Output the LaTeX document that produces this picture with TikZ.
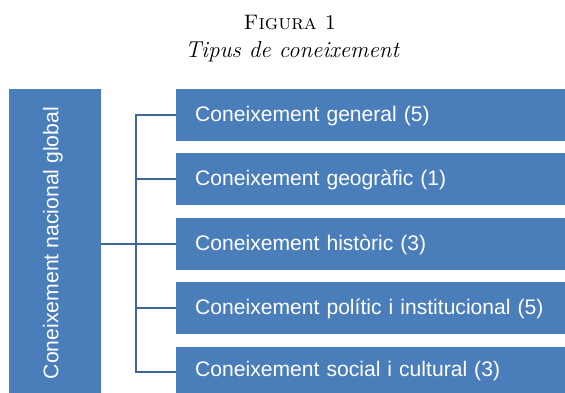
\documentclass[tikz,border=0pt]{standalone}
\usepackage{fontspec}
\newfontfamily\boxfont{Liberation Sans}
\definecolor{boxblue}{HTML}{4A7EBB}
\definecolor{lineblue}{HTML}{3D6796}
\begin{document}
\begin{tikzpicture}[x=1pt,y=-1pt,
  box/.style={fill=boxblue, draw=none, inner sep=0pt, anchor=north west},
  item/.style={box, minimum width=389pt, minimum height=51.8pt,
    text width=389pt, align=left, text=white, inner xsep=19pt,
    text height=15pt, text depth=2pt,
    font=\boxfont\fontsize{21.1}{25}\selectfont},
  lbl/.style={text=white, inner sep=0pt, font=\boxfont\fontsize{21.2}{25}\selectfont},
  conn/.style={draw=lineblue, line width=2.2pt},
  ttl/.style={inner sep=0pt, anchor=base}]
\useasboundingbox (0,0) rectangle (565,393);
% title
\node[ttl, font=\fontsize{21}{25}\selectfont] (t1) at (290,30) {\textsc{Figura 1}};
\node[ttl, font=\fontsize{23}{27}\selectfont\itshape] (t2) at (292,58) {Tipus de coneixement};
% left box
\node[box, minimum width=92pt, minimum height=304pt] (root) at (9,89) {};
\node[lbl, rotate=90, anchor=base] (rootlbl) at (58.3,243) {Coneixement nacional global};
% right boxes
\node[item] (b1) at (176,89) {Coneixement general (5)};
\node[item] (b2) at (176,153.2) {Coneixement geogr\`afic (1)};
\node[item] (b3) at (176,217.6) {Coneixement hist\`oric (3)};
\node[item] (b4) at (176,282) {Coneixement pol\'itic i institucional (5)};
\node[item, minimum height=46.4pt] (b5) at (176,346.6) {Coneixement social i cultural (3)};
% connectors
\coordinate (j) at (136.3,0);
\coordinate (c5) at (176,372.3);
\draw[conn] (root.east |- b3.west) -- (b3.west);
\draw[conn] (j |- b1.west) -- (b1.west);
\draw[conn] (j |- b2.west) -- (b2.west);
\draw[conn] (j |- b4.west) -- (b4.west);
\draw[conn] (j |- c5) -- (c5);
\draw[conn, line cap=rect] (j |- b1.west) -- (j |- c5);
\end{tikzpicture}
\end{document}
